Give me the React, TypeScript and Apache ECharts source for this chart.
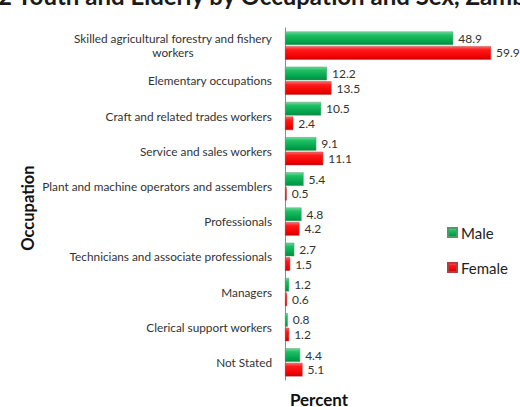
import React, { useEffect, useRef } from "react";
import * as echarts from "echarts";

const categories = [
  "Skilled agricultural forestry and fishery\nworkers",
  "Elementary occupations",
  "Craft and related trades workers",
  "Service and sales workers",
  "Plant and machine operators and assemblers",
  "Professionals",
  "Technicians and associate professionals",
  "Managers",
  "Clerical support workers",
  "Not Stated",
];
const maleValues = [48.9, 12.2, 10.5, 9.1, 5.4, 4.8, 2.7, 1.2, 0.8, 4.4];
const femaleValues = [59.9, 13.5, 2.4, 11.1, 0.5, 4.2, 1.5, 0.6, 1.2, 5.1];
const seriesNames = ["Male", "Female"];
const titleText = "2 Youth and Elderly by Occupation and Sex, Zambia";

const FONT = "Lato, 'Open Sans', sans-serif";

export default function App() {
  const ref = useRef<HTMLDivElement>(null);
  useEffect(() => {
    if (!ref.current) return;
    const chart = echarts.init(ref.current, undefined, { renderer: "svg" });
    const greenGrad = new echarts.graphic.LinearGradient(0, 0, 0, 1, [
      { offset: 0, color: "#6fdc9a" },
      { offset: 0.25, color: "#1fbf64" },
      { offset: 0.8, color: "#00a04a" },
      { offset: 1, color: "#008a3e" },
    ]);
    const redGrad = new echarts.graphic.LinearGradient(0, 0, 0, 1, [
      { offset: 0, color: "#ff6a6a" },
      { offset: 0.25, color: "#ff1a1a" },
      { offset: 0.8, color: "#f00000" },
      { offset: 1, color: "#c00000" },
    ]);
    const labelStyle = {
      show: true,
      position: "right" as const,
      distance: 5,
      fontSize: 12,
      color: "#333333",
      fontFamily: FONT,
    };
    chart.setOption({
      animation: false,
      textStyle: { fontFamily: FONT },
      grid: { left: 285, top: 28, width: 206.4, bottom: 27, containLabel: false },
      xAxis: {
        type: "value",
        min: 0,
        max: 60,
        show: false,
      },
      yAxis: {
        type: "category",
        data: categories,
        inverse: true,
        axisLine: { show: true, lineStyle: { color: "#8c8c8c", width: 1 } },
        axisTick: { show: false },
        axisLabel: {
          margin: 13,
          fontSize: 11.8,
          color: "#333333",
          fontFamily: FONT,
          formatter: (v: string) =>
            v
              .split("\n")
              .map((s) => "{a|" + s + "}")
              .join("\n"),
          rich: { a: { align: "center", fontSize: 11.8, color: "#333333", fontFamily: FONT, lineHeight: 14 } },
        },
      },
      legend: {
        orient: "vertical",
        left: 442,
        top: 220,
        itemGap: 20,
        itemWidth: 9,
        itemHeight: 9,
        icon: "rect",
        textStyle: { fontSize: 15, color: "#222222", fontFamily: FONT, padding: [0, 0, 0, -1] },
        data: seriesNames,
      },
      series: [
        {
          name: seriesNames[0],
          type: "bar",
          data: maleValues,
          barWidth: 13.5,
          barGap: "8%",
          itemStyle: { color: greenGrad, borderColor: "#4a9a6a", borderWidth: 0.5 },
          label: labelStyle,
        },
        {
          name: seriesNames[1],
          type: "bar",
          data: femaleValues,
          barWidth: 13.5,
          itemStyle: { color: redGrad, borderColor: "#b04040", borderWidth: 0.5 },
          label: labelStyle,
        },
      ],
      graphic: [
        {
          type: "text",
          x: -2,
          y: 7,
          style: {
            text: titleText,
            fontSize: 24,
            fontWeight: "bold",
            fill: "#1a1a1a",
            fontFamily: FONT,
            textVerticalAlign: "bottom",
          },
        },
        {
          type: "text",
          x: 28,
          y: 208,
          rotation: Math.PI / 2,
          style: {
            text: "Occupation",
            fontSize: 16.5,
            fontWeight: "bold",
            fill: "#111111",
            fontFamily: FONT,
            textAlign: "center",
            textVerticalAlign: "middle",
          },
        },
        {
          type: "text",
          x: 319,
          y: 399,
          style: {
            text: "Percent",
            fontSize: 17,
            fontWeight: "bold",
            fill: "#111111",
            fontFamily: FONT,
            textAlign: "center",
            textVerticalAlign: "middle",
          },
        },
      ],
    });
    return () => chart.dispose();
  }, []);
  return <div ref={ref} style={{ width: 520, height: 407, position: "absolute", left: 0, top: 0 }} />;
}
